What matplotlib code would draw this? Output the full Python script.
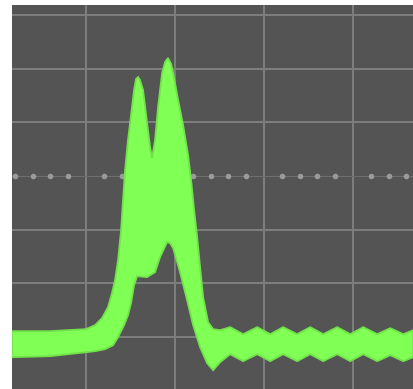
import matplotlib
matplotlib.use("Agg")
import matplotlib.pyplot as plt
import numpy as np

# trace envelope, in divisions
# (x: grid lines at 1..4, y: centre line at 0)
upper_x = [0.168, 0.595, 1.000, 1.101, 1.180, 1.247, 1.292, 1.326, 1.360,
           1.394, 1.416, 1.439, 1.472, 1.506, 1.540, 1.562, 1.585, 1.607,
           1.641, 1.686, 1.720, 1.742, 1.776, 1.810, 1.855, 1.889, 1.922,
           1.956, 1.979, 2.035, 2.091, 2.147, 2.181, 2.215, 2.249, 2.282,
           2.316, 2.372, 2.429, 2.507, 2.620, 2.766, 2.924, 3.070, 3.216,
           3.373, 3.520, 3.666, 3.823, 3.970, 4.116, 4.273, 4.420, 4.566,
           4.678]
upper_y = [-2.892, -2.892, -2.854, -2.780, -2.649, -2.444, -2.183, -1.940,
           -1.567, -1.007, -0.448, 0.112, 0.672, 1.138, 1.604, 1.810, 1.847,
           1.791, 1.604, 0.989, 0.541, 0.336, 0.672, 1.287, 1.922, 2.127,
           2.201, 2.090, 1.922, 1.418, 0.951, 0.392, -0.075, -0.634, -1.138,
           -1.698, -2.257, -2.724, -2.854, -2.873, -2.817, -2.948, -2.817,
           -2.948, -2.817, -2.948, -2.817, -2.948, -2.817, -2.948, -2.817,
           -2.948, -2.836, -2.948, -2.873]
lower_x = [0.168, 0.595, 1.000, 1.101, 1.214, 1.304, 1.360, 1.427, 1.472,
           1.506, 1.540, 1.574, 1.686, 1.776, 1.832, 1.911, 1.945, 1.979,
           2.057, 2.136, 2.204, 2.282, 2.361, 2.429, 2.507, 2.620, 2.766,
           2.924, 3.070, 3.216, 3.373, 3.520, 3.666, 3.823, 3.970, 4.116,
           4.273, 4.420, 4.566, 4.678]
lower_y = [-3.377, -3.358, -3.284, -3.265, -3.228, -3.153, -3.004, -2.780,
           -2.593, -2.369, -2.034, -1.866, -1.884, -1.791, -1.511, -1.231,
           -1.250, -1.343, -1.791, -2.313, -2.780, -3.190, -3.489, -3.619,
           -3.470, -3.321, -3.451, -3.321, -3.451, -3.321, -3.451, -3.321,
           -3.451, -3.321, -3.451, -3.321, -3.451, -3.340, -3.451, -3.377]

grid_x = [1, 2, 3, 4]
grid_y = [-3, -2, -1, 1, 2, 3]

BG = "#545454"
GRID = "#7f7f7f"
TRACE = "#80ff55"

fig = plt.figure(figsize=(4.13, 3.89), dpi=100)
fig.patch.set_facecolor("white")
ax = fig.add_axes([12 / 413, 0, 401 / 413, 384 / 389])
ax.set_facecolor(BG)

# graticule
for gx in grid_x:
    ax.axvline(gx, color=GRID, linewidth=1.4, zorder=1)
for gy in grid_y:
    ax.axhline(gy, color=GRID, linewidth=1.4, zorder=1)

# centre line with minor tick dots
ax.axhline(0, color="#6e6e6e", linewidth=0.8, zorder=1)
dots = np.arange(0.2, 4.7, 0.2)
dots = dots[np.abs(dots - np.round(dots)) > 0.05]
ax.plot(dots, np.zeros_like(dots), linestyle="none", marker="o",
        markersize=3, color="#9a9a9a", zorder=1)

# trace
ax.fill(np.r_[upper_x, lower_x[::-1]], np.r_[upper_y, lower_y[::-1]],
        facecolor=TRACE, edgecolor="#72e24b", linewidth=1.3, zorder=2)

ax.set_xlim(0.168, 4.675)
ax.set_ylim(-3.97, 3.19)
ax.set_xticks([])
ax.set_yticks([])
for s in ax.spines.values():
    s.set_visible(False)

fig.savefig("out.png", dpi=100, facecolor="white")
